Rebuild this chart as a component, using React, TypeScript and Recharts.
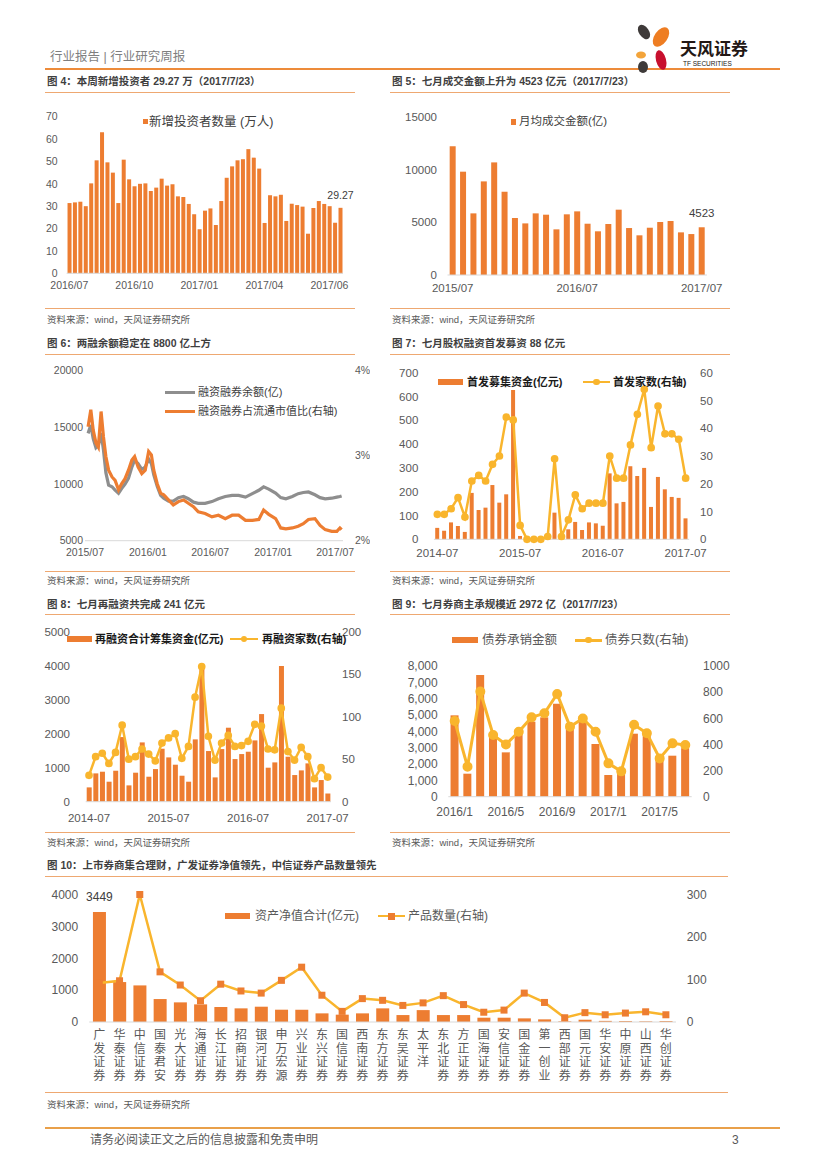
import React from 'react';
import { BarChart, ComposedChart, LineChart, Bar, Line, XAxis, YAxis, LabelList } from 'recharts';

const ORANGE = '#ED7D31';
const GOLD = '#F9B52D';
const GREY = '#8E8E8E';
const AXIS = '#D9D9D9';
const TICK = '#595959';
const RULE = '#EEA871';
const FONT = '"Liberation Sans", Arial, "Noto Sans CJK SC", sans-serif';

// month category helper (labels only)
const monthSeq = (y: number, m: number, n: number, fmt: (y: number, m: number) => string) =>
  Array.from({ length: n }, (_, i) => {
    const k = m - 1 + i;
    return fmt(y + Math.floor(k / 12), (k % 12) + 1);
  });
const pad = (m: number) => String(m).padStart(2, '0');

// 图4 weekly new investors (万人)
const f4Values = [
  31.4, 31.7, 32.0, 30.0, 40.2, 50.5, 63.0, 49.6, 45.0, 31.4,
  50.8, 42.0, 38.9, 40.0, 40.2, 36.8, 38.3, 42.3, 39.2, 39.8,
  34.4, 34.1, 31.0, 26.4, 19.7, 28.0, 29.0, 21.6, 32.3, 42.7,
  47.8, 50.5, 51.0, 55.5, 51.7, 46.8, 22.5, 34.9, 34.4, 35.1,
  23.4, 31.1, 30.5, 29.8, 17.7, 29.2, 32.3, 31.0, 30.0, 22.6, 29.27,
];
const f4TickLabels: Record<number, string> = { 0: '2016/07', 12: '2016/10', 24: '2017/01', 36: '2017/04', 48: '2017/06' };

// 图5 monthly average turnover (亿)
const f5Months = monthSeq(2015, 7, 25, (y, m) => `${y}/${pad(m)}`);
const f5Values = [
  12200, 9790, 5840, 8870, 10670, 7890, 5400, 4890, 5840, 5715, 4325, 5750, 6030,
  4860, 4140, 4830, 6190, 4450, 3760, 4480, 5020, 5115, 4040, 3880, 4523,
];

// 图6 margin balance (亿) and ratio to float cap (%)
const f6Dates = [
  '2015-07-10', '2015-07-18', '2015-07-25', '2015-08-02', '2015-08-09', '2015-08-17', '2015-08-24', '2015-08-31',
  '2015-09-08', '2015-09-18', '2015-09-27', '2015-10-07', '2015-10-16', '2015-10-26', '2015-11-05', '2015-11-15',
  '2015-11-23', '2015-12-03', '2015-12-14', '2015-12-24', '2016-01-03', '2016-01-11', '2016-01-18', '2016-01-28',
  '2016-02-07', '2016-02-16', '2016-03-01', '2016-03-15', '2016-03-30', '2016-04-14', '2016-04-28', '2016-05-13',
  '2016-05-27', '2016-06-16', '2016-07-06', '2016-07-25', '2016-08-14', '2016-09-03', '2016-09-22', '2016-10-12',
  '2016-11-01', '2016-11-20', '2016-12-04', '2016-12-19', '2017-01-08', '2017-01-23', '2017-02-07', '2017-02-26',
  '2017-03-15', '2017-03-30', '2017-04-14', '2017-05-03', '2017-05-18', '2017-06-02', '2017-06-21', '2017-07-06',
  '2017-07-15', '2017-07-20',
];
const f6Balance = [
  14470, 15200, 14000, 13200, 13400, 14500, 13000, 11000, 9900, 9760,
  9470, 9180, 9600, 10000, 10500, 11500, 12100, 11800, 11300, 11500,
  12200, 11800, 10800, 9800, 9000, 8750, 8500, 8500, 8800, 8900,
  8700, 8400, 8300, 8300, 8450, 8700, 8900, 9000, 9000, 8850,
  9150, 9450, 9750, 9550, 9200, 8800, 8700, 8900, 9150, 9250,
  9300, 9050, 8800, 8700, 8750, 8850, 8900, 8950,
];
const f6Ratio = [
  3.34, 3.54, 3.30, 3.15, 3.10, 3.52, 3.22, 2.99, 2.83, 2.75,
  2.71, 2.60, 2.67, 2.73, 2.83, 2.95, 2.99, 2.87, 2.79, 2.83,
  3.05, 3.01, 2.83, 2.67, 2.56, 2.54, 2.48, 2.42, 2.46, 2.48,
  2.44, 2.40, 2.34, 2.32, 2.28, 2.30, 2.26, 2.30, 2.30, 2.24,
  2.24, 2.25, 2.36, 2.31, 2.26, 2.15, 2.14, 2.15, 2.17, 2.20,
  2.25, 2.26, 2.18, 2.13, 2.11, 2.11, 2.15, 2.13,
];
const f6Ticks = ['2015-07-01', '2016-01-01', '2016-07-01', '2017-01-01', '2017-07-01'];

// 图7 IPO funds (亿元) and IPO count
const f7Months = monthSeq(2014, 7, 37, (y, m) => `${y}-${pad(m)}`);
const f7Funds = [
  48, 36, 71, 56, 31, 195, 123, 133, 228, 154,
  189, 627, 14, 1, 0, 0, 0, 112, 2, 42,
  73, 39, 71, 67, 57, 277, 151, 157, 307, 266,
  300, 136, 262, 210, 178, 174, 88,
];
const f7Count = [
  9, 9, 11, 15, 8, 21, 23, 21, 27, 30,
  44, 43, 5, 0, 0, 0, 1, 29, 1, 7,
  16, 11, 13, 13, 13, 30, 22, 22, 34, 45,
  54, 33, 48, 38, 38, 36, 22,
];

// 图8 refinancing funds (亿元) and count
const f8Funds = [
  421, 833, 882, 588, 911, 1901, 480, 853, 1744, 735,
  960, 1558, 1303, 1088, 764, 588, 1833, 3989, 1490, 715,
  1548, 2176, 1254, 1401, 1470, 1803, 2577, 1000, 1156, 3989,
  1323, 784, 921, 1127, 421, 637, 241,
];
const f8Count = [
  31, 53, 57, 45, 58, 90, 50, 53, 62, 56,
  48, 69, 75, 80, 51, 65, 123, 159, 77, 49,
  69, 78, 65, 66, 71, 91, 89, 62, 61, 110,
  59, 49, 64, 53, 27, 40, 29,
];

// 图9 bond underwriting
const f9Months = monthSeq(2016, 1, 19, (y, m) => `${y}/${m}`);
const f9Amount = [4980, 1408, 7449, 3878, 2714, 3980, 4592, 4857, 5694, 4490, 4900, 3225, 1327, 1735, 3857, 3878, 2286, 2510, 2972];
const f9Count = [579, 230, 804, 472, 400, 497, 607, 638, 786, 536, 599, 497, 255, 194, 551, 485, 293, 408, 395];

// 图10 brokers' collective wealth management
const f10Brokers = [
  '广发证券', '华泰证券', '中信证券', '国泰君安', '光大证券', '海通证券', '长江证券', '招商证券', '银河证券', '申万宏源',
  '兴业证券', '东兴证券', '国信证券', '西南证券', '东方证券', '东吴证券', '太平洋', '东北证券', '方正证券', '国海证券',
  '安信证券', '国金证券', '第一创业', '西部证券', '国元证券', '华安证券', '中原证券', '山西证券', '华创证券',
];
const f10Assets = [
  3449, 1253, 1148, 720, 616, 553, 470, 428, 480, 386,
  386, 271, 230, 271, 428, 218, 373, 218, 218, 135,
  135, 114, 83, 20, 72, 35, 30, 20, 30,
];
const f10Products = [
  92, 97, 300, 118, 87, 50, 89, 73, 68, 98,
  129, 63, 25, 55, 51, 39, 45, 62, 41, 23,
  28, 68, 46, 10, 22, 17, 21, 24, 17,
];

const abs = (left: number, top: number): React.CSSProperties => ({ position: 'absolute', left, top });

function T({ x, y, size, color = '#404040', bold = false, children }: any) {
  return (
    <div
      style={{
        position: 'absolute', left: x, top: y, transform: 'translateY(-50%)', fontSize: size,
        fontWeight: bold ? 700 : 400, color, whiteSpace: 'nowrap', lineHeight: 1,
      }}
    >
      {children}
    </div>
  );
}

function Panel({ x, w, title, ty, ry, by, sy }: any) {
  return (
    <>
      <T x={x + 2} y={ty} size={10.5} bold color="#3F3F3F">{title}</T>
      <div style={{ ...abs(x, ry), width: w, height: 1, background: RULE }} />
      <div style={{ ...abs(x, by), width: w, height: 1, background: RULE }} />
      <T x={x + 2} y={sy} size={9.5} color={TICK}>资料来源：wind，天风证券研究所</T>
    </>
  );
}

const lastLabel = (target: number, fs: number, lift: number) => (p: any) =>
  Number(p.value) === target ? (
    <text x={p.x + p.width / 2} y={p.y - lift} textAnchor="middle" fill="#404040" fontSize={fs}>
      {target}
    </text>
  ) : null;

const yTick = (fs: number) => ({ fill: TICK, fontSize: fs });

function Fig4() {
  const data = f4Values.map((v, w) => ({ w, v }));
  return (
    <div style={abs(40, 95)}>
      <BarChart width={320} height={210} data={data} margin={{ top: 21.7, right: 17, bottom: 11.7, left: 6.6 }} barCategoryGap="17%">
        <XAxis dataKey="w" interval={11} tickFormatter={(v) => f4TickLabels[v] ?? ''} tickLine={false} tickSize={0} tickMargin={8}
          axisLine={{ stroke: AXIS }} tick={yTick(10.5)} height={20} />
        <YAxis domain={[0, 70]} ticks={[0, 10, 20, 30, 40, 50, 60, 70]} interval={0} axisLine={false} tickLine={false}
          tickSize={0} tickMargin={9} width={20} tick={yTick(10.5)} />
        <Bar dataKey="v" fill={ORANGE} isAnimationActive={false}>
          <LabelList dataKey="v" content={lastLabel(29.27, 10.5, 9)} />
        </Bar>
      </BarChart>
    </div>
  );
}

function Fig5() {
  const data = f5Months.map((m, i) => ({ m, v: f5Values[i] }));
  return (
    <div style={abs(392, 95)}>
      <BarChart width={340} height={210} data={data} margin={{ top: 21.7, right: 25.1, bottom: 10, left: 25.5 }} barCategoryGap="21%">
        <XAxis dataKey="m" interval={11} tickLine={false} tickSize={0} tickMargin={9} axisLine={{ stroke: AXIS }} tick={yTick(11.5)} height={20} />
        <YAxis domain={[0, 15000]} ticks={[0, 5000, 10000, 15000]} interval={0} axisLine={false} tickLine={false}
          tickSize={0} tickMargin={10.5} width={30} tick={yTick(11.5)} />
        <Bar dataKey="v" fill={ORANGE} isAnimationActive={false}>
          <LabelList dataKey="v" content={lastLabel(4523, 11.5, 10)} />
        </Bar>
      </BarChart>
    </div>
  );
}

function Fig6() {
  const data = f6Dates.map((d, i) => ({ t: Date.parse(d), bal: f6Balance[i], ratio: f6Ratio[i] }));
  const ticks = f6Ticks.map((d) => Date.parse(d));
  return (
    <div style={abs(40, 355)}>
      <LineChart width={330} height={212} data={data} margin={{ top: 15.7, right: 2, bottom: 6.3, left: 10 }}>
        <XAxis dataKey="t" type="number" domain={[Date.parse('2015-07-01'), Date.parse('2017-07-24')]} ticks={ticks}
          tickFormatter={(v) => { const d = new Date(v); return `${d.getUTCFullYear()}/${pad(d.getUTCMonth() + 1)}`; }}
          tickLine={false} tickSize={0} tickMargin={8} axisLine={{ stroke: AXIS }} tick={yTick(10.5)} height={20} interval={0} />
        <YAxis yAxisId="l" domain={[5000, 20000]} ticks={[5000, 10000, 15000, 20000]} interval={0} axisLine={false} tickLine={false}
          tickSize={0} tickMargin={2} width={35} tick={yTick(10.5)} />
        <YAxis yAxisId="r" orientation="right" domain={[2, 4]} ticks={[2, 3, 4]} interval={0} axisLine={false} tickLine={false}
          tickSize={0} tickMargin={12} width={25} tick={yTick(10.5)} tickFormatter={(v) => `${v}%`} />
        <Line yAxisId="l" dataKey="bal" stroke={GREY} strokeWidth={3.2} dot={false} activeDot={false} isAnimationActive={false} />
        <Line yAxisId="r" dataKey="ratio" stroke={ORANGE} strokeWidth={3.2} dot={false} activeDot={false} isAnimationActive={false} />
      </LineChart>
    </div>
  );
}

function Fig7() {
  const data = f7Months.map((m, i) => ({ m, funds: f7Funds[i], count: f7Count[i] }));
  return (
    <div style={abs(390, 355)}>
      <ComposedChart width={345} height={212} data={data} margin={{ top: 17.7, right: 15.9, bottom: 7.7, left: 13.9 }} barCategoryGap="19%">
        <XAxis dataKey="m" interval={11} tickLine={false} tickSize={0} tickMargin={10} axisLine={{ stroke: AXIS }} tick={yTick(11.5)} height={20} />
        <YAxis yAxisId="l" domain={[0, 700]} ticks={[0, 100, 200, 300, 400, 500, 600, 700]} interval={0} axisLine={false} tickLine={false}
          tickSize={0} tickMargin={15.6} width={30} tick={yTick(11.5)} />
        <YAxis yAxisId="r" orientation="right" domain={[0, 60]} ticks={[0, 10, 20, 30, 40, 50, 60]} interval={0} axisLine={false} tickLine={false}
          tickSize={0} tickMargin={11} width={30} tick={yTick(11.5)} />
        <Bar yAxisId="l" dataKey="funds" fill={ORANGE} isAnimationActive={false} />
        <Line yAxisId="r" dataKey="count" stroke={GOLD} strokeWidth={2.5} dot={{ r: 2.6, fill: GOLD, stroke: GOLD }} activeDot={false} isAnimationActive={false} />
      </ComposedChart>
    </div>
  );
}

function Fig8() {
  const data = f7Months.map((m, i) => ({ m, funds: f8Funds[i], count: f8Count[i] }));
  return (
    <div style={abs(40, 615)}>
      <ComposedChart width={330} height={215} data={data} margin={{ top: 16.7, right: 11, bottom: 8.3, left: 15.7 }} barCategoryGap="15%">
        <XAxis dataKey="m" interval={11} tickLine={false} tickSize={0} tickMargin={12} axisLine={{ stroke: AXIS }} tick={yTick(11.5)} height={20} />
        <YAxis yAxisId="l" domain={[0, 5000]} ticks={[0, 1000, 2000, 3000, 4000, 5000]} interval={0} axisLine={false} tickLine={false}
          tickSize={0} tickMargin={15.7} width={30} tick={yTick(11.5)} />
        <YAxis yAxisId="r" orientation="right" domain={[0, 200]} ticks={[0, 50, 100, 150, 200]} interval={0} axisLine={false} tickLine={false}
          tickSize={0} tickMargin={11} width={28} tick={yTick(11.5)} />
        <Bar yAxisId="l" dataKey="funds" fill={ORANGE} isAnimationActive={false} />
        <Line yAxisId="r" dataKey="count" stroke={GOLD} strokeWidth={2.5} dot={{ r: 2.6, fill: GOLD, stroke: GOLD }} activeDot={false} isAnimationActive={false} />
      </ComposedChart>
    </div>
  );
}

function Fig9() {
  const data = f9Months.map((m, i) => ({ m, amt: f9Amount[i], count: f9Count[i] }));
  return (
    <div style={abs(390, 615)}>
      <ComposedChart width={345} height={215} data={data} margin={{ top: 51, right: 8.3, bottom: 13.3, left: 18.3 }} barCategoryGap="17.5%">
        <XAxis dataKey="m" interval={3} tickLine={false} tickSize={0} tickMargin={11} axisLine={{ stroke: AXIS }} tick={yTick(12)} height={20} />
        <YAxis yAxisId="l" domain={[0, 8000]} ticks={[0, 1000, 2000, 3000, 4000, 5000, 6000, 7000, 8000]} interval={0} axisLine={false}
          tickLine={false} tickSize={0} tickMargin={10.6} width={40} tick={yTick(12)} tickFormatter={(v) => Number(v).toLocaleString('en-US')} />
        <YAxis yAxisId="r" orientation="right" domain={[0, 1000]} ticks={[0, 200, 400, 600, 800, 1000]} interval={0} axisLine={false} tickLine={false}
          tickSize={0} tickMargin={11.3} width={35} tick={yTick(12)} />
        <Bar yAxisId="l" dataKey="amt" fill={ORANGE} isAnimationActive={false} />
        <Line yAxisId="r" dataKey="count" stroke={GOLD} strokeWidth={3} dot={{ r: 3.5, fill: GOLD, stroke: GOLD }} activeDot={false} isAnimationActive={false} />
      </ComposedChart>
    </div>
  );
}

const VertTick = ({ x, y, payload }: any) => (
  <text x={x} y={y} fill={TICK} fontSize={12} textAnchor="middle">
    {String(payload.value).split('').map((c, i) => (
      <tspan key={i} x={x} dy={i === 0 ? 14 : 13.5}>{c}</tspan>
    ))}
  </text>
);

const squareDot = (p: any) => (
  <rect key={`sq-${p.index}`} x={p.cx - 3.5} y={p.cy - 3.5} width={7} height={7} fill={ORANGE} />
);

function Fig10() {
  const data = f10Brokers.map((b, i) => ({ b, assets: f10Assets[i], products: f10Products[i] }));
  return (
    <div style={abs(40, 878)}>
      <ComposedChart width={690} height={212} data={data} margin={{ top: 16.5, right: 24, bottom: 3, left: 19.2 }} barCategoryGap="18.5%">
        <XAxis dataKey="b" interval={0} tickLine={false} tickSize={0} tickMargin={3} axisLine={{ stroke: AXIS }} tick={<VertTick />} height={65} />
        <YAxis yAxisId="l" domain={[0, 4000]} ticks={[0, 1000, 2000, 3000, 4000]} interval={0} axisLine={false} tickLine={false}
          tickSize={0} tickMargin={11} width={30} tick={yTick(12)} />
        <YAxis yAxisId="r" orientation="right" domain={[0, 300]} ticks={[0, 100, 200, 300]} interval={0} axisLine={false} tickLine={false}
          tickSize={0} tickMargin={10.7} width={30} tick={yTick(12)} />
        <Bar yAxisId="l" dataKey="assets" fill={ORANGE} isAnimationActive={false}>
          <LabelList dataKey="assets" content={lastLabel(3449, 12, 11)} />
        </Bar>
        <Line yAxisId="r" dataKey="products" stroke={GOLD} strokeWidth={2.5} dot={squareDot} activeDot={false} isAnimationActive={false} />
      </ComposedChart>
    </div>
  );
}

function BarKey({ x, y, w = 25, h = 6 }: any) {
  return <div style={{ ...abs(x, y - h / 2), width: w, height: h, background: ORANGE }} />;
}
function LineKey({ x, y, w = 27, color = GOLD, t = 2.5, marker }: any) {
  return (
    <>
      <div style={{ ...abs(x, y - t / 2), width: w, height: t, background: color }} />
      {marker === 'dot' && <div style={{ ...abs(x + w / 2 - 3.2, y - 3.2), width: 6.4, height: 6.4, borderRadius: '50%', background: GOLD }} />}
      {marker === 'square' && <div style={{ ...abs(x + w / 2 - 3.5, y - 3.5), width: 7, height: 7, background: ORANGE }} />}
    </>
  );
}

export default function App() {
  return (
    <div style={{ position: 'absolute', left: 0, top: 0, width: 827, height: 1169, background: '#fff', fontFamily: FONT, overflow: 'hidden' }}>
      {/* header */}
      <T x={50} y={57} size={12.5} color="#7F7F7F">行业报告 | 行业研究周报</T>
      <div style={{ ...abs(45, 68), width: 735, height: 2, background: '#ED8B3A' }} />
      <svg style={abs(628, 22)} width={54} height={52}>
        <ellipse cx={16} cy={10} rx={5} ry={8} fill="#3E3A39" transform="rotate(-35 16 10)" />
        <ellipse cx={33} cy={15} rx={6.5} ry={11} fill="#EE7D22" transform="rotate(35 33 15)" />
        <ellipse cx={13} cy={33} rx={5} ry={3.5} fill="#F3A43A" />
        <ellipse cx={33} cy={38} rx={5} ry={10} fill="#C8102E" transform="rotate(-15 33 38)" />
        <ellipse cx={15} cy={45} rx={5} ry={6} fill="#3E3A39" />
      </svg>
      <T x={680} y={49} size={17} bold color="#231815">天风证券</T>
      <T x={683} y={64} size={6.5} color="#231815">TF SECURITIES</T>

      {/* 图4 */}
      <Panel x={45} w={310} title="图 4：本周新增投资者 29.27 万（2017/7/23）" ty={81} ry={92} by={308} sy={320} />
      <Fig4 />
      <div style={{ ...abs(142.5, 118.5), width: 5.5, height: 5.5, background: ORANGE }} />
      <T x={149} y={121.5} size={12.5}>新增投资者数量 (万人)</T>

      {/* 图5 */}
      <Panel x={390} w={340} title="图 5：七月成交金额上升为 4523 亿元（2017/7/23）" ty={81} ry={92} by={308} sy={320} />
      <Fig5 />
      <div style={{ ...abs(510.5, 119), width: 5.5, height: 5.5, background: ORANGE }} />
      <T x={519} y={122} size={11.5}>月均成交金额(亿)</T>

      {/* 图6 */}
      <Panel x={45} w={310} title="图 6：两融余额稳定在 8800 亿上方" ty={342.5} ry={353.5} by={570.5} sy={581} />
      <Fig6 />
      <LineKey x={165} y={392} w={30} color={GREY} t={3} />
      <T x={198} y={392} size={11}>融资融券余额(亿)</T>
      <LineKey x={165} y={411} w={30} color={ORANGE} t={3} />
      <T x={198} y={411} size={11}>融资融券占流通市值比(右轴)</T>

      {/* 图7 */}
      <Panel x={390} w={340} title="图 7：七月股权融资首发募资 88 亿元" ty={342.5} ry={353.5} by={570.5} sy={581} />
      <Fig7 />
      <BarKey x={438} y={382} />
      <T x={467} y={382} size={11} bold color="#1A1A1A">首发募集资金(亿元)</T>
      <LineKey x={583} y={382} marker="dot" />
      <T x={613} y={382} size={11} bold color="#1A1A1A">首发家数(右轴)</T>

      {/* 图8 */}
      <Panel x={45} w={310} title="图 8：七月再融资共完成 241 亿元" ty={603.5} ry={614} by={832} sy={843} />
      <Fig8 />
      <BarKey x={67} y={639} />
      <T x={95} y={639} size={11} bold color="#1A1A1A">再融资合计筹集资金(亿元)</T>
      <LineKey x={230} y={639} w={28} marker="dot" />
      <T x={262} y={639} size={11} bold color="#1A1A1A">再融资家数(右轴)</T>

      {/* 图9 */}
      <Panel x={390} w={340} title="图 9：七月券商主承规模近 2972 亿（2017/7/23）" ty={603.5} ry={614} by={832} sy={843} />
      <Fig9 />
      <BarKey x={452} y={640} w={26} />
      <T x={482} y={640} size={12.5} color={TICK}>债券承销金额</T>
      <LineKey x={575} y={640} w={27} t={3} marker="dot" />
      <T x={605} y={640} size={12.5} color={TICK}>债券只数(右轴)</T>

      {/* 图10 */}
      <Panel x={45} w={683} title="图 10：上市券商集合理财，广发证券净值领先，中信证券产品数量领先" ty={864.5} ry={876} by={1092} sy={1105} />
      <Fig10 />
      <BarKey x={225} y={916} />
      <T x={255} y={916} size={12} color={TICK}>资产净值合计(亿元)</T>
      <LineKey x={378} y={916} w={27} marker="square" />
      <T x={408} y={916} size={12} color={TICK}>产品数量(右轴)</T>

      {/* footer */}
      <div style={{ ...abs(45, 1127), width: 735, height: 2, background: '#E9A04A' }} />
      <T x={90} y={1140} size={12} color={TICK}>请务必阅读正文之后的信息披露和免责申明</T>
      <T x={732} y={1140} size={12} color={TICK}>3</T>
    </div>
  );
}
